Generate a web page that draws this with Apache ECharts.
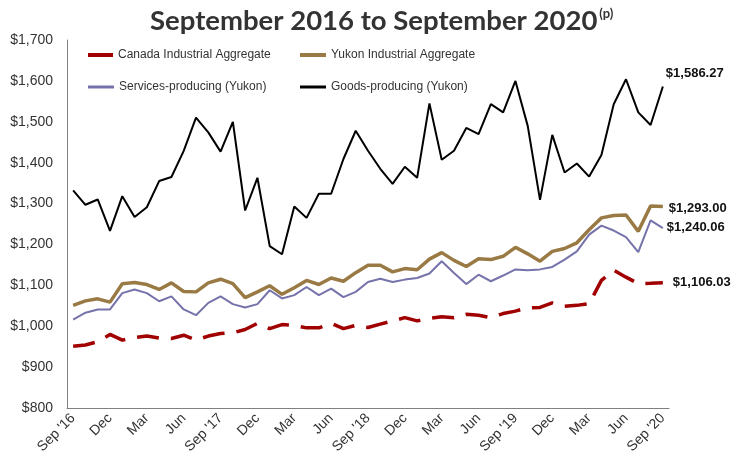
<!DOCTYPE html>
<html>
<head>
<meta charset="utf-8">
<script src="https://cdn.jsdelivr.net/npm/echarts@6/dist/echarts.min.js"></script>
<style>
  html, body { margin: 0; padding: 0; background: #fff; }
  #main { width: 733px; height: 460px; }
</style>
</head>
<body>
<div id="main"></div>
<script>
// monthly, Sep 2016 .. Sep 2020
var months = [
  "Sep '16", 'Oct', 'Nov', 'Dec', 'Jan', 'Feb', 'Mar', 'Apr', 'May', 'Jun', 'Jul', 'Aug',
  "Sep '17", 'Oct', 'Nov', 'Dec', 'Jan', 'Feb', 'Mar', 'Apr', 'May', 'Jun', 'Jul', 'Aug',
  "Sep '18", 'Oct', 'Nov', 'Dec', 'Jan', 'Feb', 'Mar', 'Apr', 'May', 'Jun', 'Jul', 'Aug',
  "Sep '19", 'Oct', 'Nov', 'Dec', 'Jan', 'Feb', 'Mar', 'Apr', 'May', 'Jun', 'Jul', 'Aug',
  "Sep '20"
];

var canada = [
  951, 954, 962, 980, 966, 972, 976, 971, 970, 978, 966, 976,
  982, 984, 992, 1007, 994, 1004, 1002, 996, 996, 1007, 994, 1002,
  997, 1005, 1013, 1021, 1013, 1019, 1023, 1021, 1029, 1027, 1021, 1031,
  1037, 1045, 1046, 1057, 1049, 1051, 1055, 1112, 1137, 1120, 1104, 1105,
  1106.03
];

var yukon = [
  1051, 1062, 1067, 1059, 1104, 1107, 1102, 1090, 1106, 1085, 1084, 1106,
  1115, 1104, 1070, 1084, 1099, 1078, 1094, 1112, 1102, 1118, 1110, 1131,
  1149, 1149, 1133, 1141, 1138, 1164, 1180, 1161, 1146, 1165, 1163, 1171,
  1193, 1177, 1159, 1183, 1190, 1204, 1236, 1265, 1271, 1272, 1232, 1294,
  1293.00
];

var services = [
  1016, 1033, 1041, 1041, 1081, 1090, 1081, 1061, 1073, 1041, 1027, 1057,
  1073, 1054, 1046, 1054, 1088, 1068, 1076, 1096, 1076, 1092, 1071, 1084,
  1108, 1116, 1108, 1114, 1118, 1129, 1159, 1130, 1103, 1126, 1110, 1124,
  1139, 1137, 1139, 1145, 1163, 1183, 1224, 1246, 1234, 1218, 1181, 1259,
  1240.06
];

var goods = [
  1332, 1297, 1310, 1233, 1318, 1267, 1291, 1355, 1365, 1429, 1510, 1474,
  1427, 1500, 1283, 1363, 1196, 1176, 1293, 1265, 1324, 1324, 1409, 1478,
  1429, 1385, 1348, 1390, 1363, 1545, 1407, 1429, 1485, 1470, 1543, 1523,
  1600, 1490, 1309, 1468, 1376, 1398, 1366, 1419, 1543, 1604, 1523, 1492,
  1586.27
];

var chart = echarts.init(document.getElementById('main'));

var txt = '#333333';
var font = 'Liberation Sans, Arial, sans-serif';

function money(p) {
  return '$' + p.value.toLocaleString('en-US', { minimumFractionDigits: 2, maximumFractionDigits: 2 });
}

function endLbl(offset) {
  return {
    show: true,
    formatter: money,
    color: '#111',
    fontFamily: font,
    fontWeight: 'bold',
    fontSize: 13,
    offset: offset
  };
}

// one legend box per item, so the two columns line up like the original
function legendAt(name, left, top, w, h) {
  return {
    data: [name],
    left: left,
    top: top,
    padding: 0,
    icon: 'rect',
    itemWidth: w,
    itemHeight: h,
    selectedMode: false,
    textStyle: { color: txt, fontSize: 12, fontFamily: font }
  };
}

var option = {
  animation: false,
  title: {
    text: '{a|September 2016 to September 2020}{p|(p)}',
    left: 145,
    top: 2,
    textStyle: {
      rich: {
        a: { fontFamily: 'Lato, sans-serif', fontWeight: 'bold', fontSize: 27.5, color: '#333' },
        p: { fontFamily: 'Lato, sans-serif', fontWeight: 'bold', fontSize: 13, color: '#333', verticalAlign: 'top', padding: [0, 0, 12, 2] }
      }
    }
  },
  legend: [
    legendAt('Canada Industrial Aggregate', 88, 49, 25, 4),
    legendAt('Yukon Industrial Aggregate', 300, 49, 26, 4),
    legendAt('Services-producing (Yukon)', 88, 81, 26, 3),
    legendAt('Goods-producing (Yukon)', 300, 81, 26, 3)
  ],
  grid: { left: 67, right: 64, top: 40, bottom: 52, containLabel: false },
  xAxis: {
    type: 'category',
    data: months,
    boundaryGap: true,
    axisLine: { lineStyle: { color: '#808080', width: 1 } },
    axisTick: { show: false },
    axisLabel: {
      interval: 2,
      rotate: 45,
      color: txt,
      fontFamily: font,
      fontSize: 14,
      margin: 8
    },
    splitLine: { show: false }
  },
  yAxis: {
    type: 'value',
    min: 800,
    max: 1700,
    interval: 100,
    axisLine: { show: true, lineStyle: { color: '#808080', width: 1 } },
    axisTick: { show: false },
    splitLine: { show: false },
    axisLabel: {
      color: txt,
      fontFamily: font,
      fontSize: 14,
      margin: 14,
      formatter: function (v) { return '$' + v.toLocaleString('en-US'); }
    }
  },
  series: [
    {
      name: 'Canada Industrial Aggregate',
      type: 'line',
      data: canada,
      symbol: 'none',
      itemStyle: { color: '#a00000' },
      lineStyle: { color: '#a00000', width: 3.5, type: [22, 12] },
      endLabel: endLbl([2, 0])
    },
    {
      name: 'Yukon Industrial Aggregate',
      type: 'line',
      data: yukon,
      symbol: 'none',
      itemStyle: { color: '#9a7a44' },
      lineStyle: { color: '#9a7a44', width: 3.5 },
      endLabel: endLbl([-2, 2])
    },
    {
      name: 'Services-producing (Yukon)',
      type: 'line',
      data: services,
      symbol: 'none',
      itemStyle: { color: '#7573aa' },
      lineStyle: { color: '#7573aa', width: 2 },
      endLabel: endLbl([-4, -1])
    },
    {
      name: 'Goods-producing (Yukon)',
      type: 'line',
      data: goods,
      symbol: 'none',
      itemStyle: { color: '#000000' },
      lineStyle: { color: '#000000', width: 2 },
      endLabel: endLbl([-5, -13])
    }
  ]
};

chart.setOption(option);
</script>
</body>
</html>
